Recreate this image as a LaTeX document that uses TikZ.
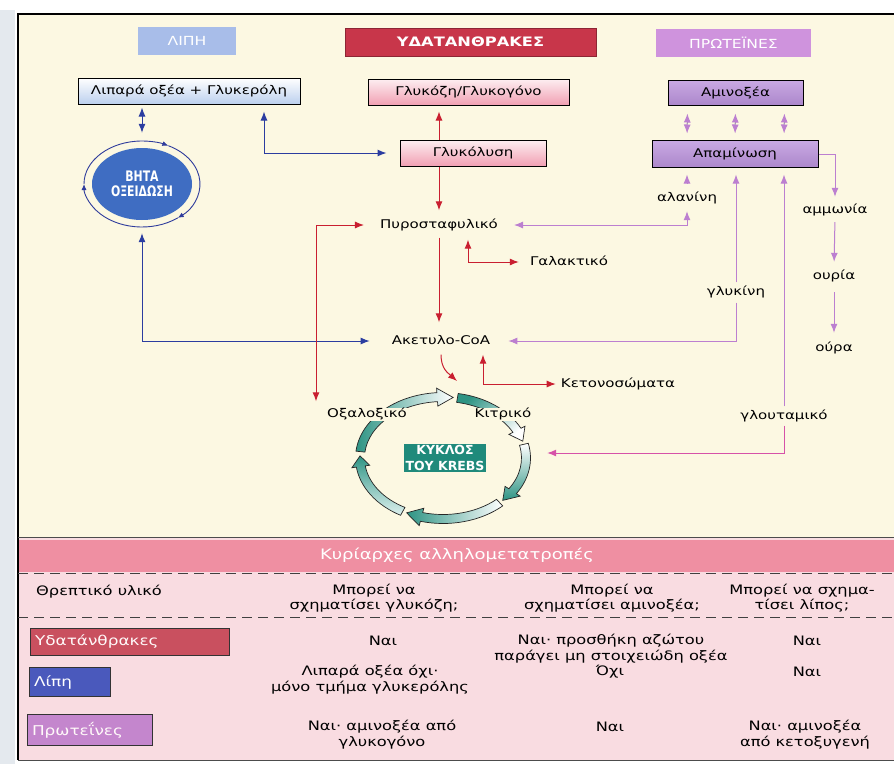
\documentclass[tikz,border=0pt]{standalone}
\usepackage{fontspec}
\setmainfont[FakeStretch=1.25]{DejaVu Sans}
\newfontfamily\narrowfont[FakeStretch=0.75]{DejaVu Sans}
\newfontfamily\plainfont{DejaVu Sans}
\usetikzlibrary{positioning,shapes.geometric,arrows.meta}
\definecolor{cream}{HTML}{FCF8E2}
\definecolor{margin}{HTML}{E4E9EE}
\definecolor{hdrblue}{HTML}{A8BDE9}
\definecolor{hdrred}{HTML}{C8364A}
\definecolor{hdrpurp}{HTML}{CF93DD}
\definecolor{fatbot}{HTML}{BCD0EE}
\definecolor{glctop}{HTML}{FDEEF1}
\definecolor{glcbot}{HTML}{F1A0B3}
\definecolor{aminotop}{HTML}{C9A9E3}
\definecolor{aminobot}{HTML}{AC87CB}
\definecolor{betablue}{HTML}{3F6DC2}
\definecolor{ringblue}{HTML}{2F3C9C}
\definecolor{arrblue}{HTML}{2B3DA0}
\definecolor{arrred}{HTML}{C91F30}
\definecolor{arrpurp}{HTML}{BC7FD0}
\definecolor{arrgrey}{HTML}{978AAA}
\definecolor{arrmag}{HTML}{D652A8}
\definecolor{krebsteal}{HTML}{2E9484}
\definecolor{krebsbox}{HTML}{1F8A7B}
\definecolor{krebslight}{HTML}{DDF0EE}
\definecolor{tblhead}{HTML}{EF8FA2}
\definecolor{tblbody}{HTML}{F9DCE1}
\definecolor{rowred}{HTML}{C9505F}
\definecolor{rowblue}{HTML}{4A59BC}
\definecolor{rowpurp}{HTML}{C486CD}
\begin{document}
\begin{tikzpicture}[x=1pt,y=-1pt,>={Latex[length=9pt,width=7pt]},
  lbl/.style={inner sep=2pt,text height=8.5pt,text depth=2.5pt,font=\fontsize{12}{13}\selectfont},
  head/.style={minimum height=28pt,inner sep=0pt,text=white,font=\fontsize{12.5}{14}\selectfont},
  box/.style={draw=black,line width=1pt,minimum height=26pt,inner sep=0pt,font=\fontsize{12}{13}\selectfont},
  tbl/.style={align=center,inner sep=1pt,font=\fontsize{13}{15.5}\selectfont},
  rowbox/.style={draw=black!80,line width=1pt,inner xsep=5pt,inner ysep=0pt,align=left,font=\fontsize{13.5}{14}\selectfont},
  bluearr/.style={draw=arrblue,line width=1pt},
  redarr/.style={draw=arrred,line width=1pt},
  purparr/.style={draw=arrpurp,line width=1pt},
  magarr/.style={draw=arrmag,line width=1pt},
  greyarr/.style={draw=arrgrey,line width=1pt,{Latex[length=9pt,width=7pt,color=arrpurp]}-{Latex[length=9pt,width=7pt,color=arrpurp]}},
  krebsseg/.style={draw=black!85,line width=0.7pt}]
\useasboundingbox (0,0) rectangle (894,764);
\fill[white] (0,0) rectangle (894,764);
\fill[margin] (0,10) rectangle (15,764);
\fill[cream] (18,14) rectangle (894,537);
\fill[tblbody] (18,537) rectangle (894,760);
\fill[tblhead] (18,540) rectangle (894,572);
\draw[line width=1.5pt] (18,760) -- (18,14) -- (894,14);
\draw[line width=1pt,black!70] (18,537) -- (894,537);
\draw[line width=1pt,black!70] (18,760) -- (894,760);
\draw[dash pattern=on 10pt off 6pt,line width=0.9pt,black!75] (18,573) -- (894,573);
\draw[dash pattern=on 10pt off 6pt,line width=0.9pt,black!75] (18,617) -- (894,617);

\node[head,fill=hdrblue,minimum width=98pt] (lipi) at (187,41) {ΛΙΠΗ};
\node[head,fill=hdrred,draw=hdrred!70!black,minimum width=251pt,font=\bfseries\fontsize{13}{14}\selectfont] (ydat) at (470.5,42) {ΥΔΑΤΑΝΘΡΑΚΕΣ};
\node[head,fill=hdrpurp,minimum width=155pt] (prot) at (733.5,43) {ΠΡΩΤΕΪΝΕΣ};

\node[box,top color=white,bottom color=fatbot,minimum width=222pt] (fat) at (189,91) {Λιπαρά οξέα + Γλυκερόλη};
\node[box,top color=glctop,bottom color=glcbot,minimum width=201pt] (glc) at (468.5,92) {Γλυκόζη/Γλυκογόνο};
\node[box,top color=aminotop,bottom color=aminobot,minimum width=135pt,minimum height=25pt] (amino) at (735.5,92.5) {Αμινοξέα};
\node[box,top color=glctop,bottom color=glcbot,minimum width=146pt] (glyc) at (473,153) {Γλυκόλυση};
\node[box,top color=aminotop,bottom color=aminobot,minimum width=166pt,minimum height=27pt] (deam) at (735,154) {Απαμίνωση};

\node[ellipse,fill=betablue,minimum width=100pt,minimum height=72pt,inner sep=0pt,align=center,text=white,font=\narrowfont\bfseries\fontsize{14.5}{15}\selectfont] (beta) at (142,184) {ΒΗΤΑ\\ΟΞΕΙΔΩΣΗ};
\node[ellipse,minimum width=116pt,minimum height=86pt,inner sep=0pt] (betaring) at (beta) {};
\foreach \s/\e in {180/297,297/412,412/540}
  \draw[draw=ringblue,line width=0.9pt,-{Latex[length=6pt,width=5pt]}] (beta.center) ++(\s:58 and 43) arc[start angle=\s,end angle=\e,x radius=58,y radius=43];

\node[ellipse,minimum width=174pt,minimum height=130pt,inner sep=0pt] (krebsring) at (443,458) {};
\begin{scope}[shift={(krebsring.center)}]
\foreach \a/\b/\c/\ca/\cb/\g in {186/266/277/white/krebsteal/-90,280/333/344/white/krebsteal/-135,347/393/404/white/krebsteal/0,407/465/476/white/krebsteal/-90,479/532/542/krebsteal/krebslight/0}
  \path[krebsseg,top color=\ca,bottom color=\cb,shading angle=\g] (\a:87.5 and 65.5) arc[start angle=\a,end angle=\b,x radius=87.5,y radius=65.5] -- (\b:92 and 70) -- (\c:83 and 61) -- (\b:74 and 52) -- (\b:78.5 and 56.5) arc[start angle=\b,end angle=\a,x radius=78.5,y radius=56.5] -- cycle;
\end{scope}
\node[fill=krebsbox,inner sep=1.5pt,align=center,text=white,font=\plainfont\bfseries\fontsize{12.5}{16}\selectfont] (krebs) at (445,458) {ΚΥΚΛΟΣ\\ΤΟΥ KREBS};
\coordinate (krebsin) at (457,381);

\node[lbl] (pyr) at (439,225) {Πυροσταφυλικό};
\node[lbl] (acoa) at (441,341) {Ακετυλο-CoA};
\node[lbl] (lact) at (569,262) {Γαλακτικό};
\node[lbl] (keto) at (618,384) {Κετονοσώματα};
\node[lbl] (ala) at (687,198) {αλανίνη};
\node[lbl] (gly) at (736,292) {γλυκίνη};
\node[lbl] (glu) at (784,416) {γλουταμικό};
\node[lbl] (amm) at (835,210) {αμμωνία};
\node[lbl] (urea) at (834,276) {ουρία};
\node[lbl] (urine) at (834,348) {ούρα};
\node[lbl,fill=cream,inner sep=1pt] (oxa) at (367,414) {Οξαλοξικό};
\node[lbl,fill=cream,inner sep=1pt] (cit) at (503,414) {Κιτρικό};

\draw[bluearr,<->,shorten <=3pt,shorten >=8pt] (beta |- fat.south) -- (betaring.north);
\draw[bluearr,<->,shorten <=13pt,shorten >=7pt] (glyc.west) -| ([xshift=75pt]fat.south);
\draw[bluearr,<->,shorten <=6pt,shorten >=20pt] (betaring.south) |- (acoa.west);

\draw[redarr,->,shorten >=6pt] (pyr |- glyc.north) -- (pyr |- glc.south);
\draw[redarr,->,shorten >=7pt] (pyr |- glyc.south) -- (pyr.north);
\draw[redarr,->,shorten <=5pt,shorten >=11pt] (pyr.south) -- (pyr |- acoa.north);
\draw[redarr,<->,shorten <=7pt,shorten >=9pt] ([xshift=29pt]pyr.south) |- (lact.west);
\draw[redarr,<->,shorten <=6pt,shorten >=3pt] ([xshift=42pt]acoa.south) |- (keto.west);
\draw[redarr,->] ([yshift=-6pt]acoa.south) .. controls +(0,14) and +(-9,-8) .. (krebsin);
\draw[redarr,<->,shorten <=6pt,shorten >=14pt] ([xshift=-51pt]oxa.north) |- (pyr.west);

\foreach \dx in {-48,0,49}
  \draw[greyarr,shorten <=8pt,shorten >=6.5pt] ([xshift=\dx pt]amino.south) -- ([xshift=\dx pt]deam.north);
\draw[purparr,->,shorten <=7.5pt,shorten >=6.5pt] (ala.north) -- (ala |- deam.south);
\draw[purparr,<->,shorten <=14pt,shorten >=5.5pt] (pyr.east) -| (ala.south);
\draw[purparr,->,shorten <=2pt,shorten >=6.5pt] (gly.north) -- (gly |- deam.south);
\draw[purparr,->,shorten <=3pt,shorten >=16pt] (gly.south) |- (acoa.east);
\draw[purparr,->,shorten <=2pt,shorten >=6.5pt] (glu.north) -- (glu |- deam.south);
\draw[magarr,->,shorten <=2pt,shorten >=17pt] (glu.south) |- ([yshift=5pt]krebsring.east);
\draw[purparr,->,shorten >=5.5pt] (deam.east) -| (amm.north);
\draw[purparr,->,shorten <=4.5pt,shorten >=6.5pt] (amm.south) -- (urea.north);
\draw[purparr,->,shorten <=8.5pt,shorten >=7.5pt] (urea.south) -- (urine.north);

\node[text=white,font=\fontsize{14.4}{16}\selectfont] (tbltitle) at (457,555) {Κυρίαρχες αλληλομετατροπές};
\node[tbl,anchor=west] (colfood) at (35,592) {Θρεπτικό υλικό};
\node[tbl] (colglc) at (374,598) {Μπορεί να\\σχηματίσει γλυκόζη;};
\node[tbl] (colaa) at (612,598) {Μπορεί να\\σχηματίσει αμινοξέα;};
\node[tbl] (colfat) at (802,598) {Μπορεί να σχημα-\\τίσει λίπος;};

\node[rowbox,fill=rowred,text=white!90!pink,text width=189pt,minimum height=27pt] (rcarb) at (129.5,641.5) {Υδατάνθρακες};
\node[rowbox,fill=rowblue,text=white,text width=71pt,minimum height=29pt] (rlipid) at (69.5,682) {Λίπη};
\node[rowbox,fill=rowpurp,text=white!90!pink,text width=115pt,minimum height=31pt] (rprot) at (89.5,730) {Πρωτεΐνες};

\node[tbl] (c11) at (383,641) {Ναι};
\node[tbl] (c12) at (611,648.5) {Ναι· προσθήκη αζώτου\\παράγει μη στοιχειώδη οξέα};
\node[tbl] (c13) at (807,641) {Ναι};
\node[tbl] (c21) at (370,679.5) {Λιπαρά οξέα όχι·\\μόνο τμήμα γλυκερόλης};
\node[tbl] (c22) at (610,672) {Όχι};
\node[tbl] (c23) at (807,672) {Ναι};
\node[tbl] (c31) at (382,734.5) {Ναι· αμινοξέα από\\γλυκογόνο};
\node[tbl] (c32) at (610,727) {Ναι};
\node[tbl] (c33) at (805,734.5) {Ναι· αμινοξέα\\από κετοξυγενή};
\end{tikzpicture}
\end{document}
